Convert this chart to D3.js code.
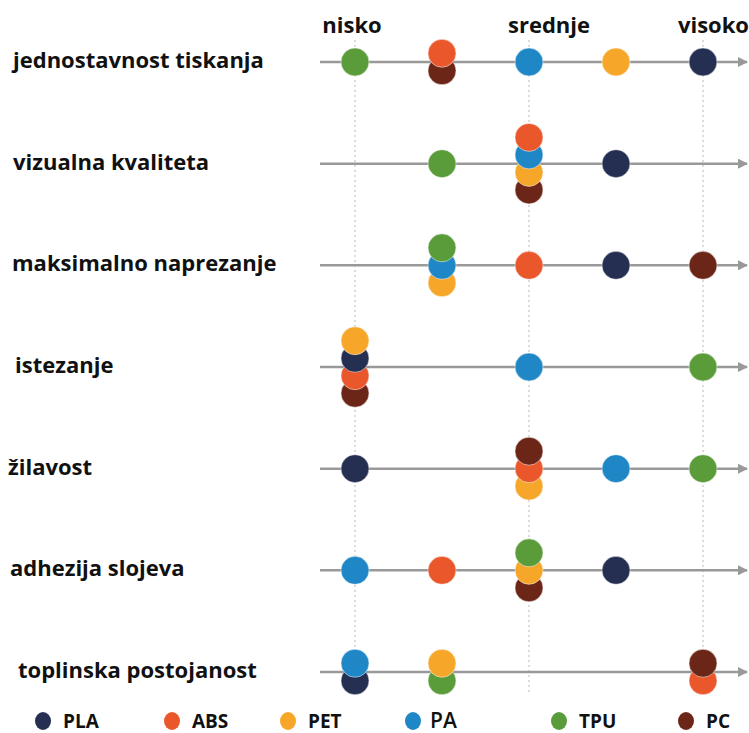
<!DOCTYPE html>
<html>
<head>
<meta charset="utf-8">
<script src="https://cdn.jsdelivr.net/npm/d3@7"></script>
<style>
  body { margin: 0; background: #fff; }
  svg { display: block; }
  text { font-family: "Open Sans", "Noto Sans", sans-serif; fill: #111; }
</style>
</head>
<body>
<svg width="749" height="733"></svg>
<script>
// properties (rows), top to bottom
var properties = ["jednostavnost tiskanja", "vizualna kvaliteta", "maksimalno naprezanje",
                  "istezanje", "žilavost", "adhezija slojeva", "toplinska postojanost"];
var materials = ["PLA", "ABS", "PET", "PA", "TPU", "PC"];
var levelNames = ["nisko", "srednje", "visoko"];   // at levels 0, 2, 4

// level 0..4 of every material for each property
var PLA = [4, 3, 3, 0, 0, 3, 0];
var ABS = [1, 2, 2, 0, 2, 1, 4];
var PET = [3, 2, 1, 0, 2, 2, 1];
var PA  = [2, 2, 1, 2, 3, 0, 0];
var TPU = [0, 1, 1, 4, 4, 2, 1];
var PC  = [1, 2, 4, 0, 2, 2, 4];

// stacking order inside a group (top first) per row
var stackOrder = [
  ["ABS", "PC", "PLA", "PET", "PA", "TPU"],
  ["ABS", "PA", "PET", "PC", "PLA", "TPU"],
  ["TPU", "PA", "PET", "PLA", "ABS", "PC"],
  ["PET", "PLA", "ABS", "PC", "PA", "TPU"],
  ["PC", "ABS", "PET", "PLA", "PA", "TPU"],
  ["TPU", "PET", "PC", "PLA", "ABS", "PA"],
  ["PA", "PLA", "PET", "TPU", "PC", "ABS"]
];

var levels = {PLA: PLA, ABS: ABS, PET: PET, PA: PA, TPU: TPU, PC: PC};

var color = d3.scaleOrdinal()
    .domain(materials)
    .range(["#252f52", "#e9572b", "#f6a72a", "#2087c6", "#5a9b3a", "#6c2618"]);

var labelX = [13, 13, 12, 15, 8, 10, 18];
var radius = 14;
var stackGap = 17.5;

var svg = d3.select("svg");

var x = d3.scaleLinear().domain([0, 4]).range([355, 703]);
var y = d3.scalePoint().domain(properties).range([62, 672]);

svg.append("defs").append("marker")
    .attr("id", "arrow")
    .attr("viewBox", "0 0 10 10")
    .attr("refX", 9).attr("refY", 5)
    .attr("markerWidth", 10).attr("markerHeight", 10)
    .attr("markerUnits", "userSpaceOnUse")
    .attr("orient", "auto")
  .append("path")
    .attr("d", "M0,0 L10,5 L0,10 Z")
    .attr("fill", "#999");

// dotted guides for nisko / srednje / visoko
svg.selectAll(".guide")
  .data([0, 2, 4])
  .enter().append("line")
    .attr("class", "guide")
    .attr("x1", d => x(d)).attr("x2", d => x(d))
    .attr("y1", 40).attr("y2", 695)
    .attr("stroke", "#cfcfcf")
    .attr("stroke-width", 1.5)
    .attr("stroke-dasharray", "2,3");

// header labels
var headerPos = [{x: 352, anchor: "middle"}, {x: 549, anchor: "middle"}, {x: 749, anchor: "end"}];
svg.selectAll(".head")
  .data(levelNames)
  .enter().append("text")
    .attr("class", "head")
    .attr("x", (d, i) => headerPos[i].x)
    .attr("y", 33)
    .attr("text-anchor", (d, i) => headerPos[i].anchor)
    .style("font-weight", 700)
    .style("font-size", "22px")
    .text(d => d);

// rows
var row = svg.selectAll(".row")
  .data(properties)
  .enter().append("g")
    .attr("class", "row")
    .attr("transform", d => "translate(0," + y(d) + ")");

row.append("line")
    .attr("x1", 320).attr("x2", 747)
    .attr("stroke", "#999")
    .attr("stroke-width", 2.5)
    .attr("marker-end", "url(#arrow)");

row.append("text")
    .attr("x", (d, i) => labelX[i])
    .attr("y", 6)
    .style("font-weight", 700)
    .style("font-size", "22px")
    .text(d => d);

// dots, stacked when several materials share a level
row.each(function(prop, r) {
  var order = stackOrder[r];
  var items = order.map(m => ({m: m, level: levels[m][r]}));
  var groups = d3.group(items, d => d.level);
  groups.forEach(function(g) {
    var n = g.length;
    g.forEach(function(d, k) { d.dy = (k - (n - 1) / 2) * stackGap; d.k = k; });
  });
  // bottom ones first so the top of the stack is drawn last
  items.sort((a, b) => b.k - a.k);
  d3.select(this).selectAll("circle")
    .data(items)
    .enter().append("circle")
      .attr("cx", d => x(d.level))
      .attr("cy", d => d.dy)
      .attr("r", radius)
      .attr("fill", d => color(d.m))
      .attr("stroke", "rgba(255,255,255,0.5)")
      .attr("stroke-width", 1);
});

// legend
var legendX = [43, 172, 288, 413, 559, 686];
var legend = svg.selectAll(".key")
  .data(materials)
  .enter().append("g")
    .attr("class", "key")
    .attr("transform", (d, i) => "translate(" + legendX[i] + ",721)");

legend.append("ellipse")
    .attr("rx", 8).attr("ry", 9)
    .attr("fill", d => color(d));

legend.append("text")
    .attr("x", d => d == "PA" ? 17 : 20)
    .attr("y", 7)
    .style("font-weight", d => d == "PA" ? 600 : 700)
    .style("font-size", d => d == "PA" ? "21px" : "19px")
    .text(d => d);
</script>
</body>
</html>
